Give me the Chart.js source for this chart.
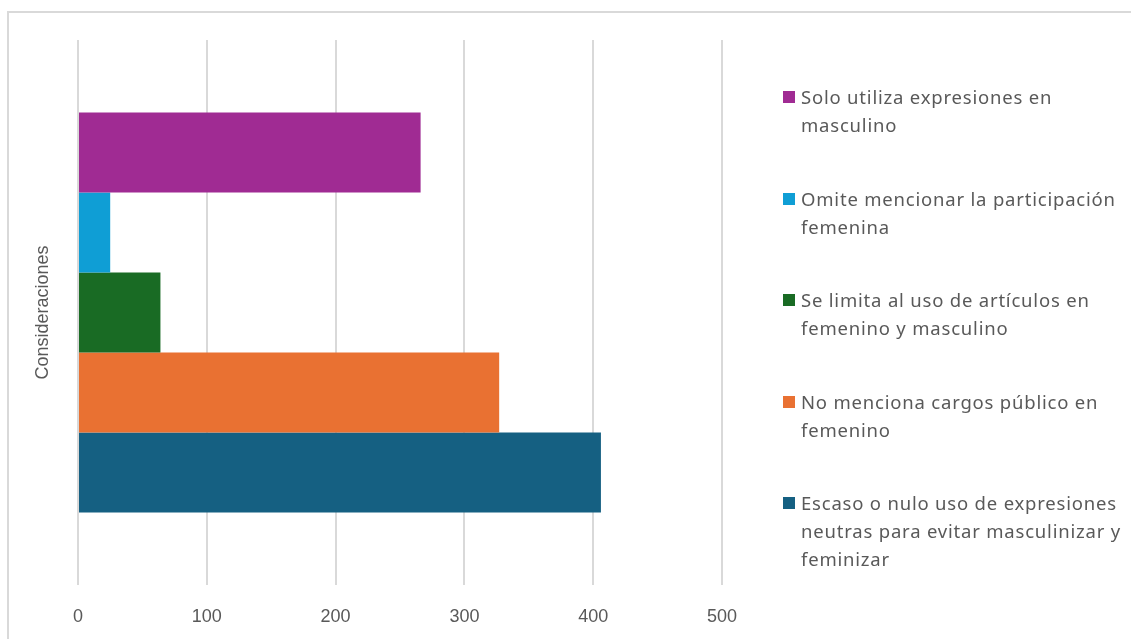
<!DOCTYPE html>
<html lang="es">
<head>
<meta charset="utf-8">
<title>Consideraciones</title>
<script src="https://cdn.jsdelivr.net/npm/chart.js@4"></script>
<style>
  html,body{margin:0;padding:0;background:#fff;}
  #wrap{position:relative;width:1131px;height:639px;overflow:hidden;}
  #frame{position:absolute;left:7px;top:11px;width:1200px;height:700px;border:2px solid #d9d9d9;box-sizing:border-box;}
  #chart{position:absolute;left:0;top:0;}
  #legend{position:absolute;left:782px;top:83px;width:345px;font-family:"Noto Sans",sans-serif;font-size:18.5px;letter-spacing:0.8px;color:#595959;}
  .item{display:flex;align-items:flex-start;height:101.5px;}
  .sw{width:12px;height:12px;flex:none;margin:8px 6px 0 1px;}
  .txt{line-height:28px;}
</style>
</head>
<body>
<div id="wrap">
  <div id="frame"></div>
  <canvas id="chart" width="1131" height="639"></canvas>
  <div id="legend"></div>
</div>
<script>
// datos
const categorias = ['Consideraciones'];
const series = [
  'Solo utiliza expresiones en masculino',
  'Omite mencionar la participación femenina',
  'Se limita al uso de artículos en femenino y masculino',
  'No menciona cargos público en femenino',
  'Escaso o nulo uso de expresiones neutras para evitar masculinizar y feminizar'
];
const valores = [266, 25, 64, 327, 406];
const colores = ['#A02B93', '#0F9ED5', '#196B24', '#E97132', '#156082'];
const ticksX = [0, 100, 200, 300, 400, 500];

const gris = '#595959';

// leyenda en html (el texto se parte en varias lineas)
document.getElementById('legend').innerHTML = series.map((s,i)=> `
  <div class="item">
    <span class="sw" style="background:${colores[i]}"></span>
    <span class="txt">${s}</span>
  </div>
`).join('');

new Chart(document.getElementById('chart'), {
  type: 'bar',
  data: {
    labels: categorias,
    datasets: series.map((s,i)=> ({
      label: s,
      data: [valores[i]],
      backgroundColor: colores[i],
      borderWidth: 0,
      barPercentage: 1,
      categoryPercentage: 0.734
    }))
  },
  options: {
    indexAxis: 'y',
    responsive: false,
    animation: false,
    layout: { padding: { left: 8, right: 409, top: 40, bottom: 0 } },
    plugins: { legend: { display:false }, tooltip: { enabled:false } },
    scales: {
      x: {
        min: 0, max: 500,
        afterBuildTicks: axis => { axis.ticks = ticksX.map(v => ({ value: v })); },
        afterFit: axis => { axis.height = 54; },
        grid: { color:'#d9d9d9', lineWidth:2, drawTicks:false },
        border: { display:false },
        ticks: { color:gris, padding:21, font:{ family:'"Liberation Sans", Arial, sans-serif', size:18 } }
      },
      y: {
        afterFit: axis => { axis.width = 70; },
        grid: { display:false },
        border: { display:false },
        ticks: { display:false },
        title: {
          display: true,
          text: 'Consideraciones',
          color: gris,
          padding: { top: 24 },
          font: { family:'"Liberation Sans", Arial, sans-serif', size:18 }
        }
      }
    }
  }
});
</script>
</body>
</html>
